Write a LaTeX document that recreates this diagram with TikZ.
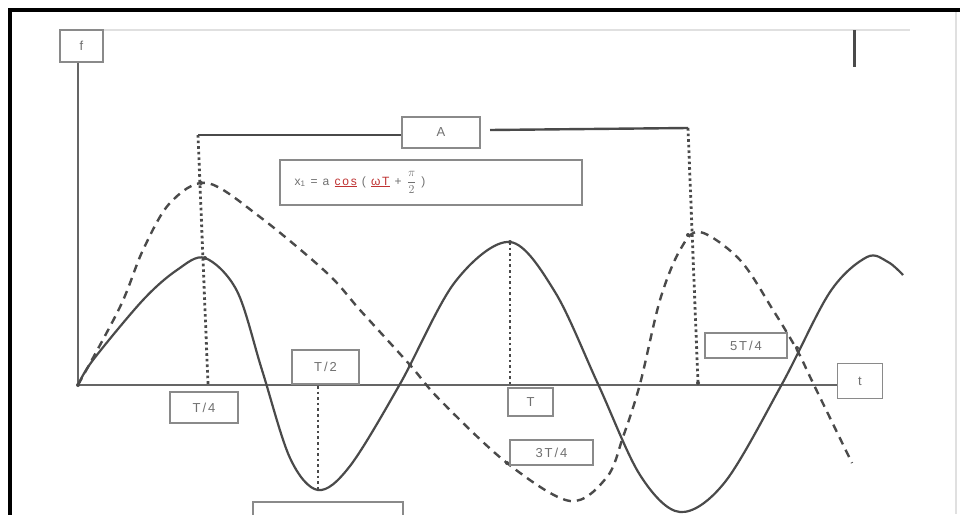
\documentclass[tikz,border=0pt]{standalone}
\usepackage{fontspec}
\setmainfont{Liberation Sans}
\newfontfamily\lblfont[LetterSpace=15]{Liberation Sans}
\usetikzlibrary{calc}
\definecolor{ink}{HTML}{4A4A4A}
\definecolor{boxln}{HTML}{8A8A8A}
\definecolor{txt}{HTML}{707070}
\tikzset{
  lbl/.style={draw=boxln, line width=1.4pt, fill=white, text=txt, inner sep=0pt, font=\lblfont\fontsize{13}{14}\selectfont},
  axisln/.style={draw=ink!85, line width=2.6pt},
  solidc/.style={draw=ink, line width=2.2pt},
  dashc/.style={draw=ink, line width=2.4pt, dash pattern=on 8pt off 6pt},
  dotln/.style={draw=ink, line width=2.8pt, dash pattern=on 2.6pt off 3pt},
  pt/.style={circle, fill=ink, inner sep=0pt, minimum size=4pt}
}
\begin{document}
\begin{tikzpicture}[x=1pt,y=-1pt]
\useasboundingbox (0,0) rectangle (960,514);
\clip (0,0) rectangle (960,514);
\fill[white] (0,0) rectangle (960,514);
% frame
\draw[black, line width=3.6pt] (10,520) -- (10,10) -- (962,10);
\draw[black!12, line width=1.5pt] (956,12) -- (956,514);
\draw[black!12, line width=1.5pt] (103,30) -- (910,30);
\draw[ink, line width=3pt] (854,30) -- (854,67);

% labels
\node[lbl, minimum width=43pt, minimum height=32pt] (f) at (81.5,46) {f};
\node[lbl, minimum width=45pt, minimum height=35pt] (t) at (860,381) {t};
\coordinate (O) at (78,385);
% axes
\draw[axisln] (f.south -| O) -- (O) -- (t.west |- O);

% curves
\draw[solidc, line join=round] plot[smooth, tension=0.55] coordinates {
 (78,385) (93,360) (143,300) (177,270) (205,258) (237,291) (262,370) (290,458) (318,490) (350,466) (400,384) (455,282) (510,242) (555,292) (598,384) (640,475) (680,512) (725,482) (782,384) (830,292) (867,257) (888,262) (903,275)};
\draw[dashc] plot[smooth, tension=0.55] coordinates {
 (78,385) (120,307) (143,250) (170,203) (207,183) (260,217) (327,273) (360,310) (410,365) (440,400) (507,463) (570,501) (607,477) (623,437) (640,384) (660,300) (680,250) (700,232) (740,260) (773,310) (797,350) (813,383) (852,463)};

% top bracket with A
\node[lbl, minimum width=78pt, minimum height=31pt] (A) at (441,132.5) {A};
\coordinate (aL) at (198,135);
\coordinate (aR) at (688,128);
\coordinate (aR0) at (490,130);
\draw[draw=ink, line width=2.4pt] (aL) -- (A.west |- aL);
\draw[draw=ink, line width=2.4pt] (aR0) -- (aR);
\coordinate (q1) at (208,384);
\coordinate (q5) at (698,383);
\draw[dotln] (aL) -- (q1);
\draw[dotln] (aR) -- (q5);

% formula
\node[lbl, minimum width=302pt, minimum height=45pt] (F) at (431,182.5) {};
\node[anchor=west, text=txt, inner sep=0pt, font=\lblfont\fontsize{12}{13}\selectfont] (Ft) at ($(F.west)+(15,0)$) {x\textsubscript{1} = a \textcolor{red!55!txt}{\underline{cos}} ( \textcolor{red!55!txt}{\underline{ωT}} + $\displaystyle\frac{\pi}{2}$ )};

% T/4, T/2, T, 3T/4, 5T/4 labels
\node[lbl, minimum width=68pt, minimum height=31pt] (T4) at (204,407.5) {T/4};
\node[lbl, minimum width=67pt, minimum height=34pt] (T2) at (325.5,367) {T/2};
\node[lbl, minimum width=45pt, minimum height=28pt] (T1) at (530.5,402) {T};
\node[lbl, minimum width=83pt, minimum height=25pt] (T34) at (551.5,452.5) {3T/4};
\node[lbl, minimum width=82pt, minimum height=25pt] (T54) at (746,345.5) {5T/4};
\node[lbl, minimum width=150pt, minimum height=28pt] (B) at (328,516) {};

% verticals
\coordinate (m2a) at (318,386);
\coordinate (m2b) at (318,490);
\draw[dotln] (m2a) -- (m2b);
\coordinate (pT) at (510,242);
\coordinate (aT) at (510,384);
\draw[dotln] (pT) -- (aT);

% dots
\node[pt] at (205,258) {};
\node[pt] at (201,183) {};
\node[pt] at (510,242) {};
\node[pt] at (688,235) {};
\node[pt] at (698,383) {};
\node[pt] at (507,463) {};
\node[pt] at (797,348) {};
\node[pt] at (410,365) {};
\node[pt] at (78,385) {};
\end{tikzpicture}
\end{document}
